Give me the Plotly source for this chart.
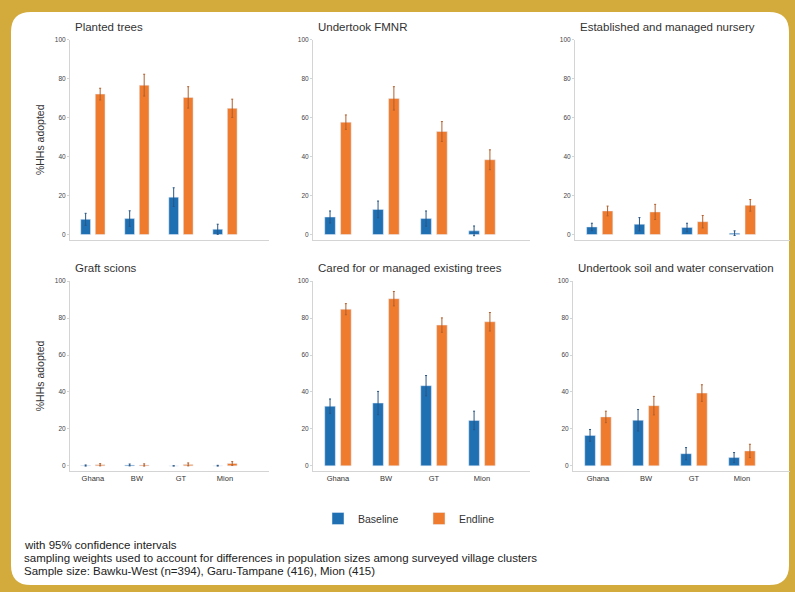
import plotly.graph_objects as go

W, H = 795, 592

regions = ["Ghana", "BW", "GT", "Mion"]
titles = [
    "Planted trees",
    "Undertook FMNR",
    "Established and managed nursery",
    "Graft scions",
    "Cared for or managed existing trees",
    "Undertook soil and water conservation",
]
y_ticks = [0, 20, 40, 60, 80, 100]

# % of households adopting each practice, one row per panel
baseline_pct = [
    [7.8, 8.2, 19.2, 2.7],
    [9.0, 12.9, 8.2, 1.9],
    [3.9, 5.3, 3.6, 0.7],
    [0.2, 0.5, 0.0, 0.1],
    [32.3, 34.0, 43.4, 24.6],
    [16.5, 24.7, 6.6, 4.5],
]
baseline_ci = [
    [3.1, 4.0, 4.8, 2.6],
    [3.1, 4.3, 3.9, 2.5],
    [1.9, 3.4, 2.2, 1.2],
    [0.3, 0.5, 0.0, 0.2],
    [3.9, 6.3, 5.5, 5.0],
    [3.2, 5.8, 3.3, 2.7],
]
endline_pct = [
    [72.1, 76.7, 70.4, 64.8],
    [57.7, 69.9, 52.9, 38.4],
    [12.1, 11.6, 6.6, 15.0],
    [0.6, 0.5, 0.8, 1.3],
    [84.8, 90.5, 76.2, 78.0],
    [26.5, 32.6, 39.4, 8.1],
]
endline_ci = [
    [3.0, 5.6, 5.5, 4.7],
    [3.7, 6.0, 5.1, 5.1],
    [2.5, 3.9, 3.2, 3.0],
    [0.6, 0.6, 0.8, 1.0],
    [3.0, 3.9, 3.9, 5.0],
    [3.1, 5.0, 4.5, 3.6],
]

notes = [
    "with 95% confidence intervals",
    "sampling weights used to account for differences in population sizes among surveyed village clusters",
    "Sample size: Bawku-West (n=394), Garu-Tampane (416), Mion (415)",
]

BLUE, ORANGE = "#1f6fb3", "#ef7b2e"
BLUE_ERR, ORANGE_ERR = "#2a5683", "#b0602e"
FONT = "Liberation Sans, Arial, sans-serif"
GOLD = "#d3ab3d"


def px(x):
    return x / W


def py(y):
    return 1 - y / H


# panel boxes in pixels: (left, right), (top, bottom)
col_spans = [[(70, 269), (313, 530), (575, 790)],
             [(70, 269), (313, 530), (573, 790)]]
row_spans = [(36, 238), (279, 470.6)]

fig = go.Figure()
annotations = []

for i in range(6):
    r, c = divmod(i, 3)
    n = i + 1
    xa = "x" if n == 1 else f"x{n}"
    ya = "y" if n == 1 else f"y{n}"
    fig.add_trace(go.Bar(
        x=regions, y=baseline_pct[i], name="Baseline", legendgroup="b",
        showlegend=(i == 0), marker_color=BLUE, xaxis=xa, yaxis=ya,
        error_y=dict(type="data", array=baseline_ci[i], color=BLUE_ERR,
                     thickness=1, width=1),
    ))
    fig.add_trace(go.Bar(
        x=regions, y=endline_pct[i], name="Endline", legendgroup="e",
        showlegend=(i == 0), marker_color=ORANGE, xaxis=xa, yaxis=ya,
        error_y=dict(type="data", array=endline_ci[i], color=ORANGE_ERR,
                     thickness=1, width=1),
    ))

    (x0, x1) = col_spans[r][c]
    (y0, y1) = row_spans[r]
    xkey = "xaxis" if n == 1 else f"xaxis{n}"
    ykey = "yaxis" if n == 1 else f"yaxis{n}"
    fig.layout[xkey] = dict(
        domain=[px(x0), px(x1)], anchor=ya, type="category",
        range=[-0.52, 4.0], showline=True, linecolor="#d4d4d4", linewidth=1,
        showgrid=False, zeroline=False, ticks="",
        showticklabels=(r == 1),
        tickfont=dict(size=7.5, color="#333", family=FONT),
    )
    fig.layout[ykey] = dict(
        domain=[py(y1), py(y0)], anchor=xa, range=[-3, 100],
        tickvals=y_ticks, showline=True, linecolor="#d4d4d4", linewidth=1,
        showgrid=False, zeroline=False, ticks="outside", ticklen=2,
        tickcolor="#d4d4d4", tickfont=dict(size=6.5, color="#444", family=FONT),
    )
    annotations.append(dict(
        text=titles[i], xref="paper", yref="paper", x=px(x0 + 3),
        y=py(23 if r == 0 else 266), xanchor="left", yanchor="middle",
        showarrow=False, font=dict(size=11.5, color="#333", family=FONT),
    ))
    if c == 0:
        annotations.append(dict(
            text="%HHs adopted", xref="paper", yref="paper", x=px(40),
            y=py((y0 + y1) / 2), xanchor="center", yanchor="middle",
            textangle=-90, showarrow=False,
            font=dict(size=10.5, color="#333", family=FONT),
        ))

for k, line in enumerate(notes):
    annotations.append(dict(
        text=line, xref="paper", yref="paper", x=px(23),
        y=py(545 + 13 * k), xanchor="left", yanchor="middle",
        showarrow=False, borderpad=0,
        font=dict(size=11.5, color="#222", family=FONT),
    ))

# white card with rounded corners on a gold frame
L, R, T, B, rad = 11, 789, 8, 585, 20
rx, ry = rad / W, rad / H
card = (
    f"M {px(L)+rx},{py(T)} L {px(R)-rx},{py(T)} Q {px(R)},{py(T)} {px(R)},{py(T)-ry} "
    f"L {px(R)},{py(B)+ry} Q {px(R)},{py(B)} {px(R)-rx},{py(B)} "
    f"L {px(L)+rx},{py(B)} Q {px(L)},{py(B)} {px(L)},{py(B)+ry} "
    f"L {px(L)},{py(T)-ry} Q {px(L)},{py(T)} {px(L)+rx},{py(T)} Z"
)

fig.update_layout(
    width=W, height=H, margin=dict(l=0, r=0, t=0, b=0),
    paper_bgcolor=GOLD, plot_bgcolor="rgba(0,0,0,0)",
    barmode="group", bargap=0.34, bargroupgap=0.33,
    font=dict(family=FONT, color="#333"),
    annotations=annotations,
    shapes=[dict(type="path", path=card, xref="paper", yref="paper",
                 fillcolor="white", line=dict(width=0), layer="below")],
    legend=dict(orientation="h", x=px(318), y=py(518), xanchor="left",
                yanchor="middle", bgcolor="rgba(0,0,0,0)",
                font=dict(size=10.5, color="#333", family=FONT),
                entrywidth=56, itemclick=False),
)

fig.write_html("out.html")
